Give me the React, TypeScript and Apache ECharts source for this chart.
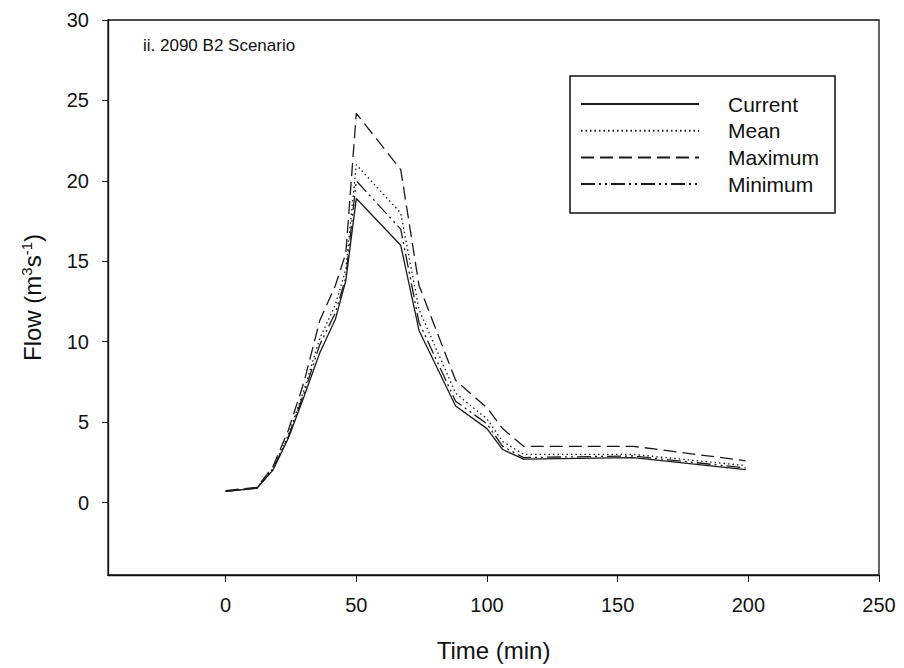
import React, { useEffect, useRef } from "react";
import * as echarts from "echarts";

const times = [0, 12, 18, 24, 30, 36, 42, 46, 50, 67, 74, 88, 100, 106, 114, 156, 199];
const current = [0.7, 0.9, 2.0, 4.0, 6.6, 9.3, 11.4, 13.8, 18.9, 16.0, 10.7, 6.0, 4.6, 3.3, 2.7, 2.8, 2.05];
const mean = [0.7, 0.9, 2.1, 4.2, 7.0, 10.2, 12.3, 14.5, 21.0, 18.0, 12.0, 6.8, 5.2, 3.8, 3.0, 3.0, 2.3];
const maximum = [0.75, 0.95, 2.2, 4.5, 7.5, 11.3, 13.5, 15.5, 24.2, 20.7, 13.5, 7.6, 5.9, 4.6, 3.5, 3.5, 2.6];
const minimum = [0.7, 0.9, 2.0, 4.1, 6.8, 9.8, 11.8, 14.0, 20.0, 17.0, 11.2, 6.3, 4.9, 3.5, 2.8, 2.9, 2.15];

const xTicks = [0, 50, 100, 150, 200, 250];
const yTicks = [0, 5, 10, 15, 20, 25, 30];
const seriesNames = ["Current", "Mean", "Maximum", "Minimum"];

const pair = (ys: number[]) => times.map((t, i) => [t, ys[i]]);

export default function App() {
  const ref = useRef<HTMLDivElement>(null);
  useEffect(() => {
    if (!ref.current) return;
    const chart = echarts.init(ref.current, null, { renderer: "svg" });
    const font = "Liberation Sans, Arial, sans-serif";
    const lineColor = "#1a1a1a";
    const mk = (name: string, data: number[], type: any) => ({
      name,
      type: "line",
      data: pair(data),
      symbol: "none",
      lineStyle: { color: lineColor, width: 1.3, type },
      itemStyle: { color: lineColor },
    });
    chart.setOption({
      animation: false,
      backgroundColor: "#fff",
      grid: {
        left: 108,
        right: 25,
        top: 20,
        bottom: 93,
        show: true,
        borderColor: "#111",
        borderWidth: 1.3,
      },
      xAxis: {
        type: "value",
        min: -45,
        max: 250,
        name: "Time (min)",
        nameLocation: "middle",
        nameGap: 63,
        nameTextStyle: { fontFamily: font, fontSize: 24, color: "#111" },
        axisLine: { show: true, onZero: false, lineStyle: { color: "#111", width: 1.3 } },
        axisTick: { show: true, customValues: xTicks, length: 7, lineStyle: { color: "#111" } },
        axisLabel: { customValues: xTicks, margin: 20, fontFamily: font, fontSize: 20, color: "#111" },
        splitLine: { show: false },
      },
      yAxis: {
        type: "value",
        min: -4.5,
        max: 30,
        name: "Flow (m{sup|3}s{sup|-1})",
        nameLocation: "middle",
        nameGap: 62,
        nameTextStyle: {
          fontFamily: font,
          fontSize: 24,
          color: "#111",
          lineHeight: 27,
          rich: {
            sup: { fontFamily: font, fontSize: 15, color: "#111", lineHeight: 15, verticalAlign: "top" },
          },
        },
        axisLine: { show: true, onZero: false, lineStyle: { color: "#111", width: 1.3 } },
        axisTick: { show: true, customValues: yTicks, length: 6, lineStyle: { color: "#111" } },
        axisLabel: { customValues: yTicks, margin: 19, fontFamily: font, fontSize: 20, color: "#111" },
        splitLine: { show: false },
      },
      legend: {
        show: true,
        data: seriesNames,
        orient: "vertical",
        left: 570,
        top: 76,
        itemWidth: 118,
        itemHeight: 14,
        itemGap: 5.7,
        padding: [17.5, 16, 18.5, 10],
        borderColor: "#111",
        borderWidth: 1.5,
        itemStyle: { opacity: 0 },
        textStyle: { fontFamily: font, fontSize: 21, color: "#111", padding: [0, 0, 0, 24] },
      },
      graphic: [
        {
          type: "text",
          left: 143,
          top: 37,
          style: { text: "ii. 2090 B2 Scenario", fontFamily: font, fontSize: 17, fill: "#111" },
        },
      ],
      series: [
        mk("Current", current, "solid"),
        mk("Mean", mean, [1.5, 3]),
        mk("Maximum", maximum, [13, 6]),
        mk("Minimum", minimum, [14, 4, 2, 4, 2, 4]),
      ],
    });
    return () => chart.dispose();
  }, []);
  return (
    <div
      ref={ref}
      style={{ position: "fixed", left: 0, top: 0, width: 904, height: 668, background: "#fff" }}
    />
  );
}
